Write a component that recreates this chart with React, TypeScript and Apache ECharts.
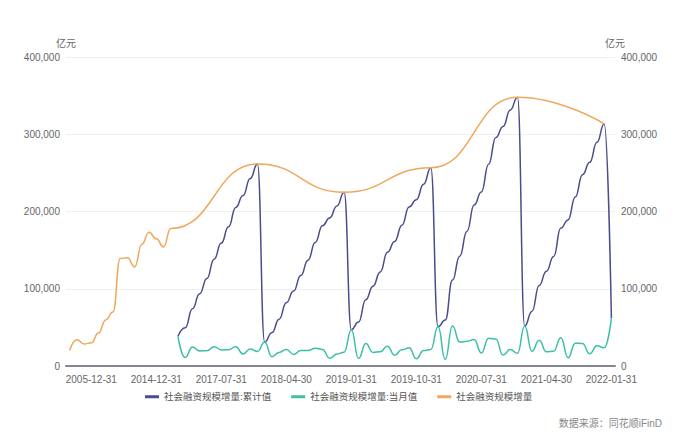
import React, { useEffect, useRef } from "react";
import * as echarts from "echarts";

const annualCategories = [
  "2002-12-31", "2003-12-31", "2004-12-31", "2005-12-31", "2006-12-31",
  "2007-12-31", "2008-12-31", "2009-12-31", "2010-12-31", "2011-12-31",
  "2012-12-31", "2013-12-31", "2014-12-31", "2015-12-31", "2016-12-31",
];
const monthlyCategories = [
  "2017-01-31", "2017-02-28", "2017-03-31", "2017-04-30", "2017-05-31", "2017-06-30",
  "2017-07-31", "2017-08-31", "2017-09-30", "2017-10-31", "2017-11-30", "2017-12-31",
  "2018-01-31", "2018-02-28", "2018-03-31", "2018-04-30", "2018-05-31", "2018-06-30",
  "2018-07-31", "2018-08-31", "2018-09-30", "2018-10-31", "2018-11-30", "2018-12-31",
  "2019-01-31", "2019-02-28", "2019-03-31", "2019-04-30", "2019-05-31", "2019-06-30",
  "2019-07-31", "2019-08-31", "2019-09-30", "2019-10-31", "2019-11-30", "2019-12-31",
  "2020-01-31", "2020-02-29", "2020-03-31", "2020-04-30", "2020-05-31", "2020-06-30",
  "2020-07-31", "2020-08-31", "2020-09-30", "2020-10-31", "2020-11-30", "2020-12-31",
  "2021-01-31", "2021-02-28", "2021-03-31", "2021-04-30", "2021-05-31", "2021-06-30",
  "2021-07-31", "2021-08-31", "2021-09-30", "2021-10-31", "2021-11-30", "2021-12-31",
  "2022-01-31",
];

// 社会融资规模增量:累计值 (亿元), monthly from 2017-01
const cumulativeValues = [
  38500, 49500, 74000, 93500, 113300, 138300, 159100, 180100, 205100, 220600, 242600, 261500,
  31000, 43000, 60500, 82000, 97000, 117000, 137000, 160000, 181500, 191500, 207000, 224900,
  47000, 56800, 85800, 103300, 121800, 147300, 161300, 182300, 205800, 215300, 235300, 256700,
  50700, 59400, 111200, 142200, 174100, 208400, 225300, 261100, 295900, 310100, 331400, 347900,
  51700, 70700, 104100, 122600, 141800, 178500, 189100, 218700, 247700, 263600, 289700, 313400,
  61700,
];

// 社会融资规模增量:当月值 (亿元), monthly from 2017-01
const monthlyValues = [
  38500, 11000, 24500, 19500, 19800, 25000, 20800, 21000, 25000, 15500, 22000, 18900,
  31000, 12000, 17500, 21500, 15000, 20000, 20000, 23000, 21500, 10000, 15500, 17900,
  47000, 9800, 29000, 17500, 18500, 25500, 14000, 21000, 23500, 9500, 20000, 21400,
  50700, 8700, 51800, 31000, 31900, 34300, 16900, 35800, 34800, 14200, 21300, 16500,
  51700, 19000, 33400, 18500, 19200, 36700, 10600, 29600, 29000, 15900, 26100, 23700,
  61700,
];

// 社会融资规模增量 (亿元), annual
const annualEarlyValues = [
  20112, 34113, 28629, 30008, 42696, 59663, 69802, 139104, 140191, 128286,
  157631, 173169, 164571, 154086, 178022,
];
const annualLaterDates = ["2017-12-31", "2018-12-31", "2019-12-31", "2020-12-31", "2021-12-31"];
const annualLaterValues = [261536, 224920, 256735, 347917, 313408];

const yTicks = { min: 0, max: 400000, interval: 100000 };

const seriesNames = ["社会融资规模增量:累计值", "社会融资规模增量:当月值", "社会融资规模增量"];
const colors = ["#4a4d8c", "#3dbfa8", "#f0a75c"];

const FONT = "'Liberation Sans', 'Noto Sans CJK SC', sans-serif";

export default function App() {
  const ref = useRef<HTMLDivElement>(null);

  useEffect(() => {
    document.body.style.margin = "0";
    if (!ref.current) return;
    const chart = echarts.init(ref.current, undefined, { renderer: "svg" });
    const categories = [...annualCategories, ...monthlyCategories];
    const pad = annualCategories.map(() => null);
    const cumData = [...pad, ...cumulativeValues];
    const monData = [...pad, ...monthlyValues];
    const annData = categories.map((c, i) => {
      if (i < annualEarlyValues.length) return annualEarlyValues[i];
      const k = annualLaterDates.indexOf(c);
      return k >= 0 ? annualLaterValues[k] : null;
    });

    const yAxisCommon = {
      type: "value",
      min: yTicks.min,
      max: yTicks.max,
      interval: yTicks.interval,
      name: "亿元",
      nameLocation: "end",
      nameGap: 9,
      nameTextStyle: { color: "#666", fontSize: 10, fontFamily: FONT },
      axisLine: { show: false },
      axisTick: { show: false },
      axisLabel: { color: "#666", fontSize: 10, margin: 6, fontFamily: FONT },
    };

    const lineCommon = {
      type: "line",
      smooth: 0.5,
      smoothMonotone: "x",
      showSymbol: false,
      symbol: "none",
    };

    chart.setOption({
      animation: false,
      color: colors,
      textStyle: { fontFamily: FONT },
      grid: { left: 66, right: 85, top: 57, bottom: 74, containLabel: false },
      legend: {
        left: 140,
        top: 387,
        icon: "rect",
        itemWidth: 14,
        itemHeight: 3,
        itemGap: 20,
        textStyle: { color: "#555", fontSize: 9.5, fontFamily: FONT },
        data: seriesNames,
      },
      graphic: [
        {
          type: "text",
          right: 38,
          top: 418,
          style: { text: "数据来源：同花顺iFinD", fill: "#888", fontSize: 10, fontFamily: FONT },
        },
      ],
      xAxis: {
        type: "category",
        data: categories,
        boundaryGap: true,
        axisLine: { lineStyle: { color: "#85858f", width: 2 } },
        axisTick: { show: false },
        axisLabel: {
          color: "#666",
          fontSize: 10,
          margin: 8,
          fontFamily: FONT,
          interval: (index: number) => index % 9 === 3,
        },
        splitLine: { show: false },
      },
      yAxis: [
        {
          ...yAxisCommon,
          position: "left",
          splitLine: { show: true, lineStyle: { color: "#f0f0f0" } },
        },
        {
          ...yAxisCommon,
          position: "right",
          splitLine: { show: false },
        },
      ],
      series: [
        {
          ...lineCommon,
          name: seriesNames[0],
          data: cumData,
          lineStyle: { width: 1.5, color: colors[0] },
          itemStyle: { color: colors[0] },
        },
        {
          ...lineCommon,
          name: seriesNames[1],
          data: monData,
          lineStyle: { width: 1.5, color: colors[1] },
          itemStyle: { color: colors[1] },
        },
        {
          ...lineCommon,
          name: seriesNames[2],
          data: annData,
          connectNulls: true,
          lineStyle: { width: 1.5, color: colors[2] },
          itemStyle: { color: colors[2] },
        },
      ],
    });
    return () => chart.dispose();
  }, []);

  return <div ref={ref} style={{ width: 700, height: 440 }} />;
}
